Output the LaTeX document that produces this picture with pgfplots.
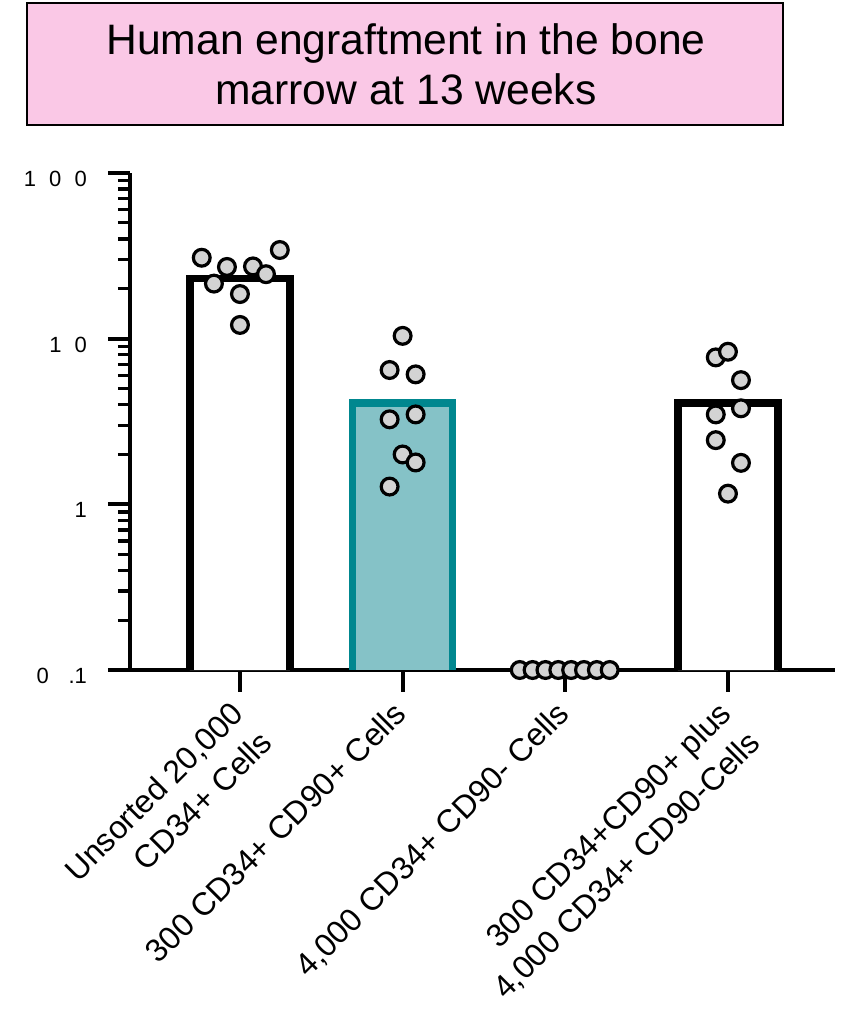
\documentclass[border=0pt]{standalone}
\usepackage{pgfplots}
\pgfplotsset{compat=1.18}
\usepackage{fontspec}
\setmainfont{Liberation Sans}
\definecolor{tealb}{RGB}{0,135,143}
\definecolor{tealf}{RGB}{133,194,199}
\definecolor{pinkbox}{RGB}{250,200,230}
\definecolor{dotgray}{RGB}{211,211,211}
\begin{document}
\begin{tikzpicture}
\draw[line width=1pt, fill=pinkbox] (13.5pt,442pt) rectangle (391.5pt,503pt);
\node[align=center, font=\fontsize{21.3}{25}\selectfont] at (203pt,472.5pt) {Human engraftment in the bone\\marrow at 13 weeks};
\begin{axis}[
  at={(65pt,169.5pt)}, anchor=south west,
  scale only axis, width=352.5pt, height=248.5pt,
  ymode=log, ymin=0.1, ymax=100,
  log origin=infty,
  xmin=-0.676, xmax=3.658,
  clip=false,
  axis x line*=bottom, axis y line*=left,
  axis line style={-, line width=2pt, line cap=butt},
  tick align=outside,
  major tick length=11pt, minor tick length=6pt,
  tick style={line width=2pt, black},
  minor tick style={line width=1.6pt, black},
  xtick={0,1,2,3},
  xticklabels={{Unsorted 20,000\\CD34+ Cells},{300 CD34+ CD90+ Cells},{4,000 CD34+ CD90- Cells},{300 CD34+CD90+ plus\\4,000 CD34+ CD90-Cells}},
  xticklabel style={xshift=-5.5pt, yshift=-3.5pt, rotate=45, anchor=north east, align=right, inner sep=0pt, font=\fontsize{16}{20.5}\selectfont},
  ytick={0.1,1,10,100},
  yticklabels={{0\hspace{0.9em}.1},{1},{1\hspace{0.6em}0},{1\hspace{0.6em}0\hspace{0.6em}0}},
  yticklabel style={font=\fontsize{11}{13}\selectfont, xshift=-7pt, yshift=-3pt},
]
% bar fills
\addplot[ybar, bar width=50pt, fill=white, draw=none] coordinates {(0,23.0) (3,4.1)};
\addplot[ybar, bar width=50pt, fill=tealf, draw=none] coordinates {(1,4.1)};
% bar outlines (open at the bottom)
\addplot[black, line width=3.75pt, line join=miter] coordinates {(-0.307,0.1) (-0.307,23.0) (0.307,23.0) (0.307,0.1)};
\addplot[tealb, line width=3.75pt, line join=miter] coordinates {(0.693,0.1) (0.693,4.1) (1.307,4.1) (1.307,0.1)};
\addplot[black, line width=3.75pt, line join=miter] coordinates {(2.693,0.1) (2.693,4.1) (3.307,4.1) (3.307,0.1)};
% individual values
\addplot[only marks, mark=*, mark size=4.2pt, mark options={fill=dotgray, draw=black, line width=1.6pt}] coordinates {
 (-0.235,30.8) (-0.08,27.1) (0.08,27.3) (0.245,34.3) (-0.16,21.5) (0.16,24.5) (0,18.6) (0,12.1)
};
\addplot[only marks, mark=*, mark size=4.2pt, mark options={fill=dotgray, draw=black, line width=1.6pt}] coordinates {
 (1,10.4) (0.92,6.47) (1.08,6.09) (0.92,3.26) (1.08,3.49) (1,2.00) (1.08,1.79) (0.92,1.28)
};
\addplot[only marks, mark=*, mark size=4.2pt, mark options={fill=dotgray, draw=black, line width=1.6pt}] coordinates {
 (1.72,0.1) (1.799,0.1) (1.878,0.1) (1.957,0.1) (2.036,0.1) (2.115,0.1) (2.194,0.1) (2.273,0.1)
};
\addplot[only marks, mark=*, mark size=4.2pt, mark options={fill=dotgray, draw=black, line width=1.6pt}] coordinates {
 (2.925,7.71) (3,8.34) (3.08,5.62) (3.08,3.80) (2.925,3.49) (2.925,2.44) (3.08,1.78) (3,1.16)
};
\end{axis}
\pgfresetboundingbox
\path[use as bounding box] (0,0) rectangle (425.5pt,504.5pt);
\end{tikzpicture}
\end{document}
